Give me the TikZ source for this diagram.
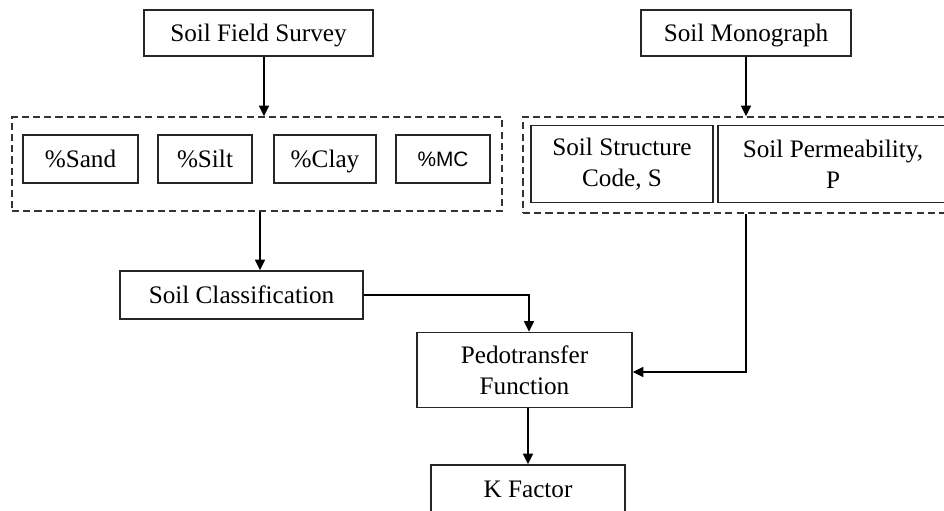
\documentclass[tikz,border=0pt]{standalone}
\usepackage{fontspec}
\setmainfont{Liberation Serif}
\newfontfamily\mcfont{Liberation Sans}
\usetikzlibrary{positioning,arrows.meta,fit}
\tikzset{
    soilbox/.style={draw=black!85, line width=1.3pt, align=center, inner sep=0pt, fill=white},
    soilitem/.style={soilbox, text height=14pt, text depth=0pt},
    soilgroup/.style={draw=black!80, line width=1.3pt, dash pattern=on 6pt off 3.6pt, inner sep=0pt},
    soilarrow/.style={draw, line width=1.3pt, -{Triangle[length=9pt,width=8.5pt]}},
    soilline/.style={draw, line width=1.3pt}
}

\begin{document}
\begin{tikzpicture}[x=0.03cm, y=-0.03cm, font=\fontsize{21.5}{26.5}\selectfont]
    \useasboundingbox (0,0) rectangle (944,511);
    \clip (0,0) rectangle (944,511);
    % sources
    \node[soilitem, minimum width=229*0.03cm, minimum height=46*0.03cm] (survey) at (258.5,33) {Soil Field Survey};
    \node[soilitem, minimum width=210*0.03cm, minimum height=46*0.03cm] (monograph) at (746,33) {Soil Monograph};
    % field survey data
    \node[soilitem, minimum width=115*0.03cm, minimum height=48*0.03cm] (sand) at (80.5,159) {\%Sand};
    \node[soilitem, minimum width=94*0.03cm, minimum height=48*0.03cm] (silt) at (205,159) {\%Silt};
    \node[soilitem, minimum width=102*0.03cm, minimum height=48*0.03cm] (clay) at (325,159) {\%Clay};
    \node[soilitem, minimum width=94*0.03cm, minimum height=48*0.03cm, text height=12.7pt, font=\mcfont\fontsize{17.8}{21}\selectfont] (mc) at (443,159) {\%MC};
    \node[soilgroup, minimum width=490*0.03cm, minimum height=94*0.03cm] (fieldgroup) at (257,164) {};
    % monograph data
    \node[soilgroup, minimum width=433*0.03cm, minimum height=96*0.03cm] (monogroup) at (739.5,165) {};
    \node[soilbox, minimum width=182*0.03cm, minimum height=77*0.03cm] (structure) at (622,164) {Soil Structure\\Code, S};
    \node[soilbox, minimum width=230*0.03cm, minimum height=77*0.03cm] (permeability) at (833,164) {Soil Permeability,\\P};
    % processing
    \node[soilitem, minimum width=243*0.03cm, minimum height=48*0.03cm] (classification) at (241.5,295) {Soil Classification};
    \node[soilbox, minimum width=215*0.03cm, minimum height=75*0.03cm] (pedotransfer) at (524.5,370) {Pedotransfer\\Function};
    \node[soilitem, minimum width=194*0.03cm, minimum height=48*0.03cm] (kfactor) at (528,489) {K Factor};

    \draw[soilarrow] ([xshift=0.165cm]survey.south) -- ([xshift=0.165cm]survey.south |- fieldgroup.north);
    \draw[soilarrow] (monograph.south) -- (monograph.south |- monogroup.north);
    \draw[soilarrow] ([xshift=0.555cm]classification.north |- fieldgroup.south) -- ([xshift=0.555cm]classification.north);
    \draw[soilarrow] (classification.east) -| ([xshift=0.135cm]pedotransfer.north);
    \draw[soilarrow] (monograph.south |- monogroup.south) |- ([yshift=-0.06cm]pedotransfer.east);
    \draw[soilarrow] (kfactor.north |- pedotransfer.south) -- (kfactor.north);
\end{tikzpicture}
\end{document}
